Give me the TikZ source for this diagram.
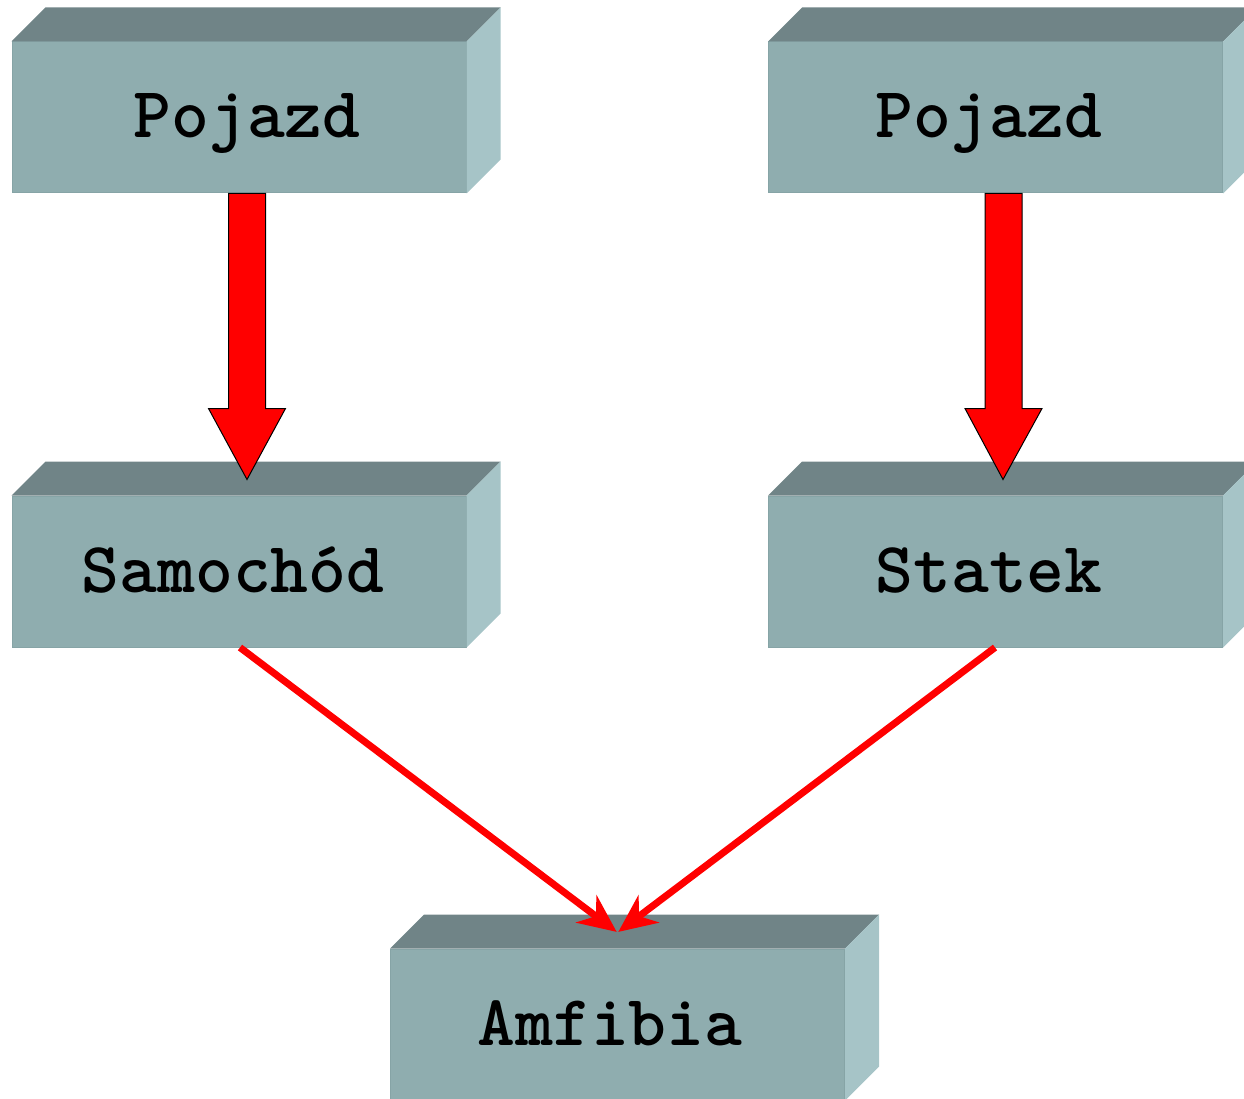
\documentclass[tikz,border=0pt]{standalone}
\usepackage{fontspec}
\usetikzlibrary{calc,arrows.meta}
\definecolor{frontc}{HTML}{8FADAF}
\definecolor{topc}{HTML}{708487}
\definecolor{sidec}{HTML}{A6C4C7}
\definecolor{edgec}{HTML}{86A4A6}
\tikzset{
  box/.style={rectangle, fill=frontc, draw=edgec, line width=1pt, minimum width=454pt, minimum height=151pt, inner sep=0pt,
    text height=45pt, text depth=4pt,
    font=\ttfamily\bfseries\fontsize{72}{80}\selectfont, text=black},
  blockarrow/.style={fill=red, draw=black, line width=1pt, line join=miter},
  thinarrow/.style={draw=red, line width=7pt, -{Stealth[length=38pt,width=34pt,inset=12pt]}, shorten >=1pt}
}
\newcommand{\boxfaces}[1]{%
  \fill[topc] (#1.north west) -- ++(34,-34) -- ($(#1.north east)+(34,-34)$) -- (#1.north east) -- cycle;
  \fill[sidec] (#1.north east) -- ++(34,-34) -- ($(#1.south east)+(34,-34)$) -- (#1.south east) -- cycle;
}
\begin{document}
\begin{tikzpicture}[x=1pt,y=-1pt]
\useasboundingbox (0,0) rectangle (1244,1099);
\clip (0,0) rectangle (1244,1099);
\node[box] (p1) at (239,117.5) {\hspace*{16pt}Pojazd};
\node[box] (p2) at (995.5,117.5) {Pojazd\hspace*{13pt}};
\node[box] (sa) at (239,571.5) {Samochód\hspace*{12pt}};
\node[box] (st) at (995.5,571.5) {Statek\hspace*{13pt}};
\node[box] (am) at (617.5,1024.5) {Amfibia\hspace*{15pt}};
\boxfaces{p1}
\boxfaces{p2}
\boxfaces{sa}
\boxfaces{st}
\boxfaces{am}
% block arrows
\draw[blockarrow] ($(p1.south)+(-10.5,0)$) -- ($(p1.south)+(26.5,0)$) -- ($(p1.south)+(26.5,215)$) -- ($(p1.south)+(46.5,215)$)
  -- ($(sa.north)+(8,-16)$) -- ($(p1.south)+(-30.5,215)$) -- ($(p1.south)+(-10.5,215)$) -- cycle;
\draw[blockarrow] ($(p2.south)+(-10.5,0)$) -- ($(p2.south)+(26.5,0)$) -- ($(p2.south)+(26.5,215)$) -- ($(p2.south)+(46.5,215)$)
  -- ($(st.north)+(7.5,-16)$) -- ($(p2.south)+(-30.5,215)$) -- ($(p2.south)+(-10.5,215)$) -- cycle;
% thin arrows
\coordinate (amtop) at ($(am.north)+(0,-16)$);
\draw[thinarrow] ($(sa.south)+(1,0)$) -- (amtop);
\draw[thinarrow] ($(st.south)+(-0.5,0)$) -- (amtop);
\end{tikzpicture}
\end{document}
